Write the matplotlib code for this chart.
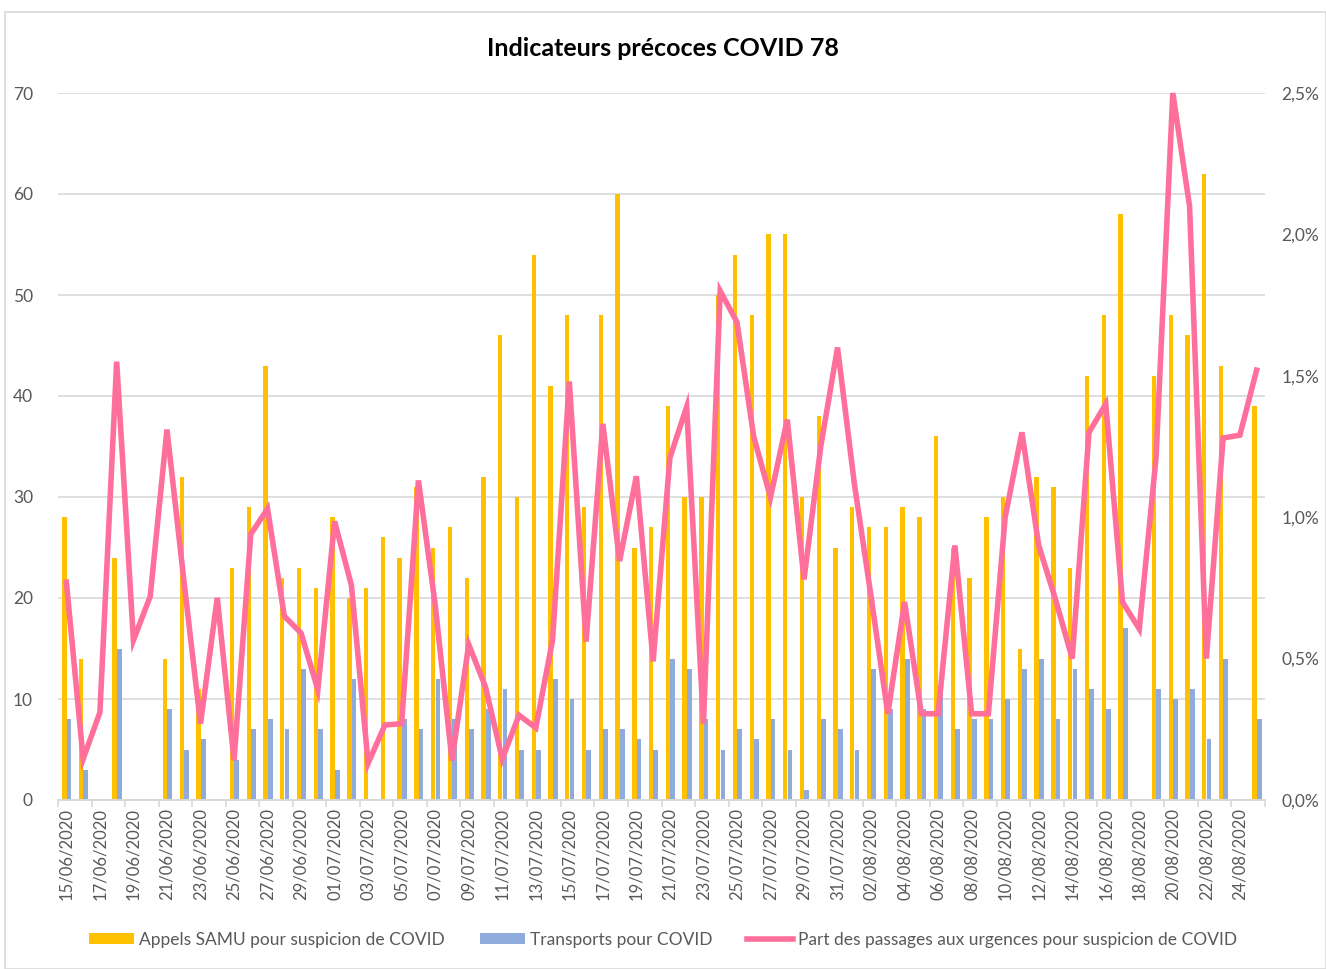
import matplotlib
matplotlib.use("Agg")
import matplotlib.pyplot as plt
import matplotlib.ticker as mticker
from matplotlib.patches import Rectangle
import numpy as np
import pandas as pd

# daily data 15/06/2020 -> 25/08/2020
start_date = "2020-06-15"
dates = pd.date_range(start_date, periods=72, freq="D").strftime("%d/%m/%Y").tolist()

appels_samu = [28, 14, 0, 24, 0, 0, 14, 32, 11, 0, 23, 29, 43, 22, 23, 21, 28, 20,
               21, 26, 24, 31, 25, 27, 22, 32, 46, 30, 54, 41, 48, 29, 48, 60, 25, 27,
               39, 30, 30, 50, 54, 48, 56, 56, 30, 38, 25, 29, 27, 27, 29, 28, 36, 25,
               22, 28, 30, 15, 32, 31, 23, 42, 48, 58, 0, 42, 48, 46, 62, 43, 0, 39]

transports = [8, 3, 0, 15, 0, 0, 9, 5, 6, 0, 4, 7, 8, 7, 13, 7, 3, 12,
              0, 0, 8, 7, 12, 8, 7, 9, 11, 5, 5, 12, 10, 5, 7, 7, 6, 5,
              14, 13, 8, 5, 7, 6, 8, 5, 1, 8, 7, 5, 13, 9, 14, 9, 11, 7,
              8, 8, 10, 13, 14, 8, 13, 11, 9, 17, 0, 11, 10, 11, 6, 14, 0, 8]

# part des passages aux urgences (%)
part_urgences = [0.77, 0.145, 0.31, 1.55, 0.565, 0.72, 1.31, 0.78, 0.27, 0.715, 0.14, 0.94,
                 1.03, 0.65, 0.59, 0.39, 0.985, 0.76, 0.13, 0.265, 0.27, 1.13, 0.69, 0.14,
                 0.55, 0.40, 0.145, 0.30, 0.255, 0.565, 1.48, 0.56, 1.33, 0.845, 1.145, 0.49,
                 1.21, 1.39, 0.27, 1.80, 1.69, 1.285, 1.07, 1.345, 0.78, 1.25, 1.60, 1.12,
                 0.72, 0.305, 0.70, 0.305, 0.305, 0.90, 0.305, 0.305, 1.00, 1.30, 0.90, 0.71,
                 0.50, 1.30, 1.40, 0.70, 0.605, 1.21, 2.50, 2.10, 0.50, 1.28, 1.29, 1.52]

plt.rcParams['font.family'] = ['Lato', 'DejaVu Sans']
grey_txt = "#595959"

fig = plt.figure(figsize=(13.26, 9.69), dpi=100)
ax = fig.add_axes([58 / 1326, 1 - 800 / 969, 1207 / 1326, 707 / 969])
ax2 = ax.twinx()

x = np.arange(len(dates))
ax.bar(x - 0.12, appels_samu, width=0.26, color="#FFC000", label="Appels SAMU pour suspicion de COVID", zorder=2)
ax.bar(x + 0.16, transports, width=0.28, color="#8FAADC", label="Transports pour COVID", zorder=2)
ax2.plot(x, part_urgences, color="#FF6F9B", lw=4, solid_joinstyle="miter",
         label="Part des passages aux urgences pour suspicion de COVID", clip_on=False, zorder=3)

ax.set_xlim(-0.5, len(dates) - 0.5)
ax.set_ylim(0, 70)
ax.set_yticks(range(0, 71, 10))
ax2.set_ylim(0, 2.5)
ax2.set_yticks(np.arange(0, 2.51, 0.5))
ax2.yaxis.set_major_formatter(mticker.FuncFormatter(lambda v, p: f"{v:.1f}%".replace(".", ",")))

ax.grid(axis="y", color="#D9D9D9", lw=1.2, zorder=0)
ax.set_axisbelow(True)
for a in (ax, ax2):
    for s in ("top", "left", "right"):
        a.spines[s].set_visible(False)
    a.spines["bottom"].set_color("#D9D9D9")
    a.spines["bottom"].set_linewidth(1.2)
    a.tick_params(axis="y", length=0, labelsize=12.5, labelcolor=grey_txt)

ax.tick_params(axis="y", pad=18)
ax2.tick_params(axis="y", pad=12)

# date labels every 2 days, tick marks on category boundaries
ax.set_xticks(x[::2])
ax.set_xticklabels(dates[::2], rotation=90, fontsize=12, color=grey_txt)
ax.tick_params(axis="x", length=0, pad=6)
ax.set_xticks(np.arange(-0.5, len(dates), 2), minor=True)
ax.tick_params(axis="x", which="minor", length=5, color="#D9D9D9", width=1.2)

fig.text(0.5, 1 - 48 / 969, "Indicateurs précoces COVID 78", ha="center", va="center",
         fontsize=18, fontweight="bold", color="black")

h1, l1 = ax.get_legend_handles_labels()
h2, l2 = ax2.get_legend_handles_labels()
fig.legend(h1 + h2, l1 + l2, loc="center", bbox_to_anchor=(0.5, 1 - 940 / 969), ncol=3,
           frameon=False, fontsize=12.5, labelcolor=grey_txt, handlelength=2.6,
           handleheight=0.6, handletextpad=0.3, columnspacing=2.0)

fig.patches.append(Rectangle((5 / 1326, 0), 1 - 5 / 1326, 1 - 12 / 969, transform=fig.transFigure,
                             fill=False, edgecolor="#D9D9D9", lw=1.2))

fig.savefig("out.png", dpi=100)
